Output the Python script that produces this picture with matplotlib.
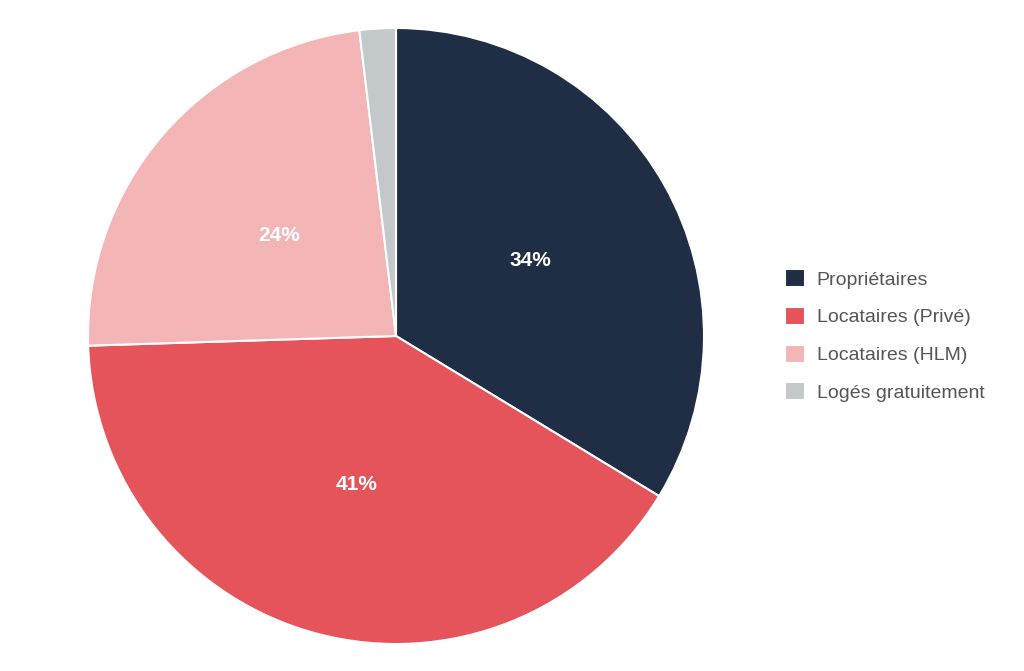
import math
import matplotlib.pyplot as plt

plt.rcParams['font.family'] = ['Liberation Sans', 'DejaVu Sans']

labels = ['Propriétaires', 'Locataires (Privé)', 'Locataires (HLM)', 'Logés gratuitement']
values = [33.7, 40.8, 23.6, 1.9]
shown = ['34%', '41%', '24%', '']
colors = ['#1f2d45', '#e5545a', '#f4b5b7', '#c3c8cb']

fig = plt.figure(figsize=(10.24, 6.71), dpi=100)
ax = fig.add_axes([88/1024, 27/671, 616/1024, 616/671])

wedges, texts = ax.pie(values, colors=colors, startangle=90, counterclock=False,
                       wedgeprops=dict(edgecolor='white', linewidth=1.5))
for w, txt in zip(wedges, shown):
    ang = math.radians((w.theta1 + w.theta2) / 2)
    ax.text(0.5 * math.cos(ang), 0.5 * math.sin(ang), txt, ha='center', va='center',
            color='white', fontsize=15, fontweight='bold')
ax.set_xlim(-1, 1)
ax.set_ylim(-1, 1)
ax.set_aspect('equal')
ax.axis('off')

fig.legend(wedges, labels, loc='center left', bbox_to_anchor=(775/1024, 335.5/671),
           frameon=False, fontsize=14, handlelength=1.05, handleheight=1.05,
           handletextpad=0.6, labelspacing=0.93, borderpad=0, labelcolor='#555555')

fig.savefig('out.png', dpi=100)
